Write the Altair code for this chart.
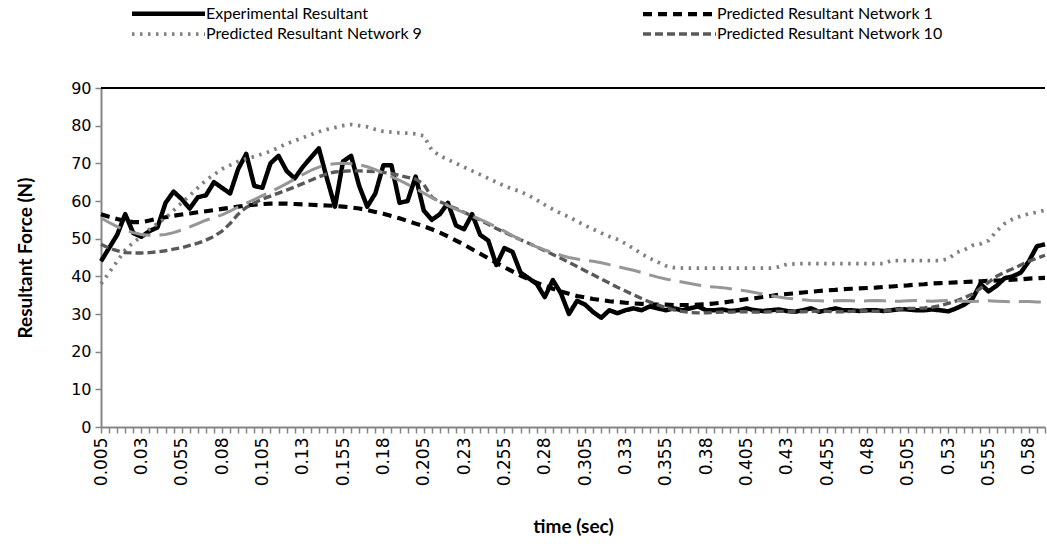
import json
import altair as alt
import pandas as pd

# Sample times (s), one category every 5 ms
times = [f"{(k + 1) * 5 / 1000:g}" for k in range(118)]
shown_labels = times[::5]
force_ticks = list(range(0, 91, 10))

experimental = [
    44, 47.5, 51, 56.5, 51.5, 50.5, 52, 53, 59.5, 62.5,
    60.5, 58, 61, 61.5, 65, 63.5, 62, 68.5, 72.5, 64,
    63.5, 70, 72, 68, 66, 69, 71.5, 74, 66, 58.5,
    70.5, 72, 64, 58.5, 62, 69.5, 69.5, 59.5, 60, 66.5,
    57.5, 55, 56.5, 59.5, 53.5, 52.5, 56.5, 51, 49.5, 43,
    47.5, 46.5, 41, 39.5, 38, 34.5, 39, 35.5, 30, 33.5,
    32.5, 30.5, 29, 31, 30.2, 31, 31.5, 31, 32, 31.5,
    31, 31.5, 31, 31.5, 32, 31, 31, 31.2, 30.8, 31,
    31.5, 31, 30.8, 31, 31.2, 30.8, 30.6, 31, 31.5, 30.6,
    31, 31.5, 31, 31, 30.8, 31, 31, 30.8, 31, 31.3,
    31.2, 31, 31, 31.2, 31, 30.7, 31.5, 32.5, 34, 38,
    36, 37.5, 39.5, 40, 41, 44, 48, 48.5,
]

network1 = [
    56.5, 55.8, 55.2, 54.7, 54.4, 54.4, 54.8, 55.3, 55.7, 56.1,
    56.4, 56.7, 57.0, 57.3, 57.6, 57.9, 58.2, 58.5, 58.8, 59.0,
    59.2, 59.3, 59.3, 59.3, 59.2, 59.1, 59.0, 58.9, 58.8, 58.7,
    58.5, 58.3, 58.0, 57.6, 57.1, 56.6, 56.0, 55.4, 54.7, 54.0,
    53.3, 52.5, 51.6, 50.6, 49.5, 48.4, 47.2, 46.0, 44.8, 43.6,
    42.4, 41.3, 40.2, 39.2, 38.3, 37.5, 36.7, 36.0, 35.4, 34.8,
    34.4, 34.0, 33.7, 33.4, 33.2, 33.0, 32.8, 32.7, 32.6, 32.5,
    32.5, 32.4, 32.4, 32.4, 32.5, 32.6, 32.8, 33.0, 33.3, 33.6,
    33.9, 34.2, 34.5, 34.8, 35.1, 35.3, 35.5, 35.7, 35.9, 36.1,
    36.3, 36.4, 36.6, 36.7, 36.8, 36.9, 37.0, 37.2, 37.3, 37.5,
    37.6, 37.8, 37.9, 38.1, 38.2, 38.3, 38.4, 38.5, 38.6, 38.7,
    38.8, 38.9, 39.0, 39.1, 39.2, 39.4, 39.5, 39.6,
]

network9 = [
    38, 41, 44, 47, 49, 50.5, 52.5, 54, 55.5, 57.5,
    59.5, 61.5, 63.5, 65.5, 67, 68.5, 69.5, 70.5, 71.2, 71.8,
    72.5, 73.2, 74.2, 75.2, 76, 76.8, 77.6, 78.4, 79, 79.5,
    80, 80.3, 80, 79.7, 79, 78.5, 78.3, 78.1, 78, 77.8,
    77.3, 73.5, 72, 71, 70, 69, 68, 67, 66, 65,
    64, 63.2, 62.5, 61.5, 60.3, 59, 57.8, 56.7, 55.8, 54.6,
    53.5, 52.5, 51.5, 50.6, 49.8, 48.7, 47.4, 46.0, 44.8, 43.8,
    42.8, 42.3, 42.2, 42.2, 42.2, 42.2, 42.2, 42.2, 42.2, 42.2,
    42.2, 42.2, 42.2, 42.2, 42.5, 43.2, 43.3, 43.4, 43.4, 43.4,
    43.4, 43.4, 43.4, 43.4, 43.4, 43.4, 43.4, 43.4, 44.2, 44.2,
    44.2, 44.2, 44.2, 44.2, 44.2, 44.6, 46.3, 47, 48.2, 48.6,
    49.5, 52, 54, 55.2, 56, 56.6, 57, 57.6,
]

network10 = [
    48.5, 47.5, 46.8, 46.3, 46.2, 46.2, 46.3, 46.5, 46.8, 47.2,
    47.6, 48.2, 48.8, 49.6, 50.6, 52, 54, 56.5, 58.3, 59.5,
    60.5, 61.3, 62.1, 62.9, 63.7, 64.6, 65.5, 66.4, 67.2, 67.7,
    67.9, 68, 68, 67.9, 67.8, 67.6, 67.3, 66.8, 66.3, 65.8,
    64.5, 61, 59.8, 58.9, 58, 57, 56, 54.9, 53.8, 52.7,
    51.7, 50.7, 49.7, 48.8, 47.8, 46.8, 45.8, 44.8, 43.7, 42.6,
    41.5, 40.4, 39.3, 38.2, 37.1, 36.1, 35.1, 34.1, 33.2, 32.4,
    31.7, 31.1, 30.7, 30.4, 30.3, 30.3, 30.4, 30.5, 30.5, 30.6,
    30.6, 30.5, 30.5, 30.6, 30.7, 30.7, 30.6, 30.6, 30.7, 30.8,
    30.7, 30.6, 30.6, 30.7, 30.8, 30.8, 30.7, 30.8, 31, 31.3,
    31.5, 31.5, 31.6, 31.8, 32.2, 32.8, 33.5, 34.3, 35.3, 36.8,
    38.4, 40, 41.1, 42, 43, 44, 44.8, 45.6,
]

# Further network prediction, drawn without a legend entry
network_other = [
    55.5, 54.3, 53.2, 52.3, 51.6, 51.1, 50.9, 50.9, 51.1, 51.6,
    52.3, 53.1, 54, 54.9, 55.6, 56.3, 57.3, 58.4, 59.4, 60.4,
    61.4, 62.4, 63.5, 64.6, 65.8, 67, 68.1, 69, 69.6, 69.9,
    70, 69.9, 69.6, 69.1, 68.3, 67.4, 66.5, 65.5, 64.4, 63.3,
    62.1, 60.9, 59.8, 58.8, 57.8, 56.9, 56, 55.1, 54.1, 53.1,
    52, 50.8, 49.7, 48.7, 47.8, 47, 46.3, 45.6, 45, 44.6,
    44.3, 44, 43.6, 43.1, 42.6, 42.1, 41.6, 41, 40.4, 39.8,
    39.3, 38.9, 38.5, 38.1, 37.7, 37.3, 37.2, 37, 36.7, 36.4,
    36.1, 35.7, 35.3, 34.9, 34.5, 34.2, 34, 33.8, 33.6, 33.5,
    33.4, 33.5, 33.6, 33.5, 33.4, 33.5, 33.6, 33.5, 33.4, 33.4,
    33.5, 33.6, 33.5, 33.4, 33.5, 33.6, 33.5, 33.4, 33.3, 33.4,
    33.5, 33.4, 33.3, 33.2, 33.3, 33.3, 33.2, 33.2,
]

names = [
    "Experimental Resultant",
    "Predicted Resultant Network 1",
    "Predicted Resultant Network 9",
    "Predicted Resultant Network 10",
    "Predicted Resultant (other network)",
]
series = [experimental, network1, network9, network10, network_other]
colors = ["#000000", "#000000", "#808080", "#595959", "#969696"]
dashes = [[1, 0], [9, 6], [2.5, 5.5], [8, 4], [22, 9]]
widths = [4.5, 3, 3, 3.5, 3.5]

rows = []
for name, values in zip(names, series):
    for i, (t, v) in enumerate(zip(times, values)):
        rows.append({"series": name, "time": t, "idx": i, "force": v})
df = pd.DataFrame(rows)

# Long horizontal legend swatch: a path spanning -4..4, scaled by sqrt(size)/2
legend = alt.Legend(
    title=None,
    orient="none",
    direction="horizontal",
    legendX=56,
    legendY=-86,
    columns=2,
    columnPadding=212,
    rowPadding=0,
    symbolType="M-4,0H4",
    symbolSize=333,
    labelFont="Lato",
    labelFontSize=16,
    labelColor="#000000",
    labelOffset=26,
    labelLimit=400,
    values=names[:4],
)

label_expr = (
    "indexof(" + json.dumps(shown_labels) + ", datum.value) >= 0 ? datum.value : ''"
)

x_axis = alt.Axis(
    title="time (sec)",
    titleFont="Lato",
    titleFontSize=19,
    titleFontWeight="bold",
    titleColor="#000000",
    titleY=90,
    labelAngle=270,
    labelExpr=label_expr,
    labelOverlap=False,
    labelFont="DejaVu Sans",
    labelFontSize=17,
    labelColor="#000000",
    labelPadding=4,
    tickColor="#868686",
    tickSize=6,
    tickWidth=1.5,
    domainColor="#868686",
    domainWidth=2,
    grid=False,
)

y_axis = alt.Axis(
    title="Resultant Force (N)",
    titleFont="Lato",
    titleFontSize=19,
    titleFontWeight="bold",
    titleColor="#000000",
    titleX=-66,
    values=force_ticks,
    labelOverlap=False,
    labelFont="DejaVu Sans",
    labelFontSize=16,
    labelColor="#000000",
    labelPadding=4,
    tickColor="#868686",
    tickSize=6,
    tickWidth=1.5,
    domainColor="#868686",
    domainWidth=2,
    grid=False,
)

y_scale = alt.Scale(domain=[0, 90], nice=False)

lines = alt.Chart(df).mark_line(strokeJoin="round").encode(
    x=alt.X("time:N", sort=times, scale=alt.Scale(padding=0), axis=x_axis),
    y=alt.Y("force:Q", scale=y_scale, axis=y_axis),
    color=alt.Color("series:N", scale=alt.Scale(domain=names, range=colors), legend=legend),
    strokeDash=alt.StrokeDash("series:N", scale=alt.Scale(domain=names, range=dashes), legend=legend),
    strokeWidth=alt.StrokeWidth("series:N", scale=alt.Scale(domain=names, range=widths), legend=legend),
    order=alt.Order("idx:Q"),
)

# Upper border of the plot area at the top of the force scale
top_line = alt.Chart(pd.DataFrame({"force": [90]})).mark_rule(
    color="#000000", strokeWidth=2
).encode(y=alt.Y("force:Q", scale=y_scale, axis=y_axis))

chart = (
    alt.layer(lines, top_line)
    .properties(
        width=944,
        height=339,
        autosize="none",
        padding={"left": 101, "top": 88, "right": 2, "bottom": 117},
        background="#ffffff",
    )
    .configure_view(stroke=None)
)

chart.save("out.html", embed_options={"renderer": "svg", "actions": False})
